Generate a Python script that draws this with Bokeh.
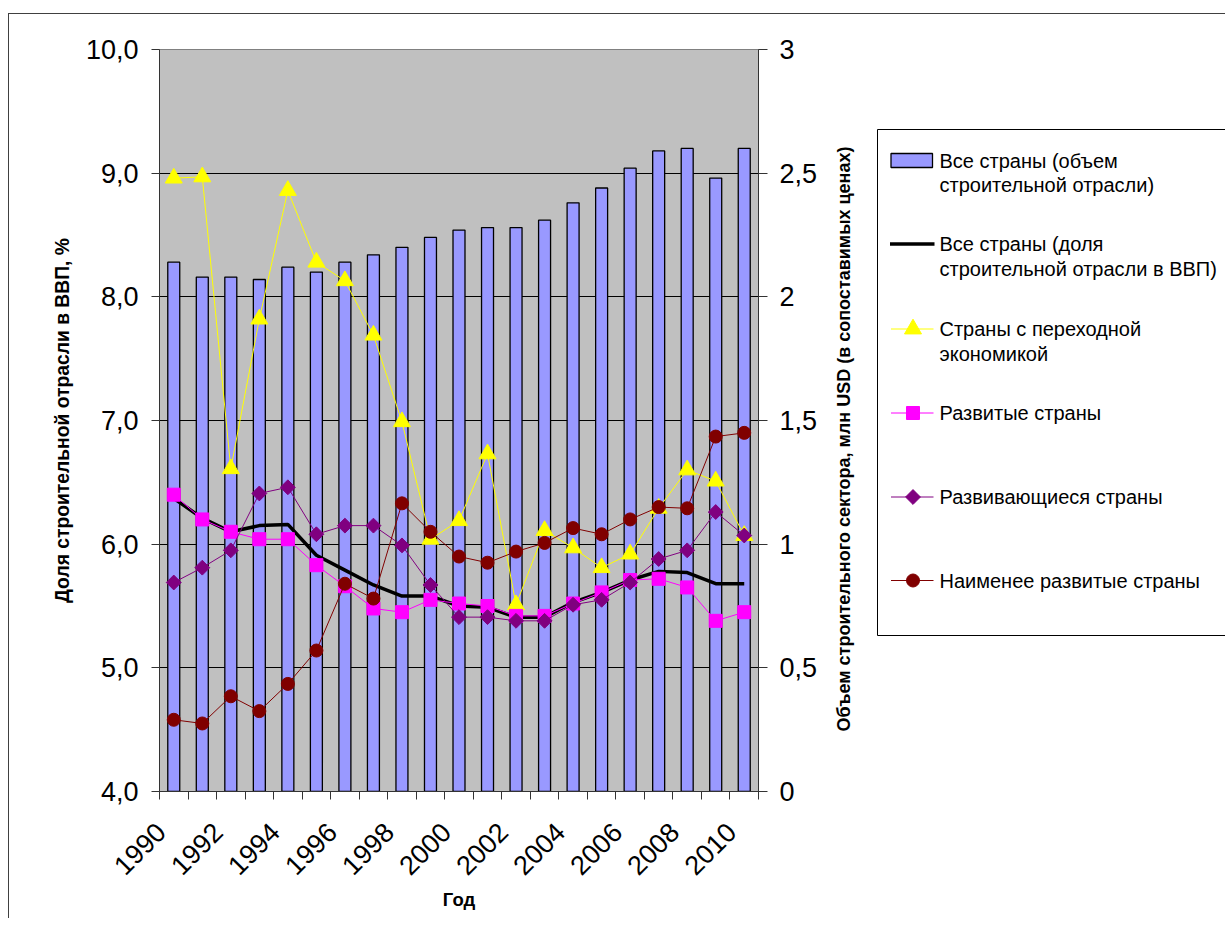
import math
from bokeh.plotting import figure
from bokeh.models import Range1d, LinearAxis, FixedTicker, CustomJSTickFormatter
from bokeh.layouts import row
from bokeh.embed import file_html
from bokeh.resources import INLINE
from bokeh.core.properties import value

# ---------------- data ----------------
years = list(range(1990, 2011))
year_labels = [1990, 1992, 1994, 1996, 1998, 2000, 2002, 2004, 2006, 2008, 2010]
volume = [2.14, 2.08, 2.08, 2.07, 2.12, 2.10, 2.14, 2.17, 2.20, 2.24, 2.27,
          2.28, 2.28, 2.31, 2.38, 2.44, 2.52, 2.59, 2.60, 2.48, 2.60]
all_share = [6.37, 6.21, 6.10, 6.15, 6.16, 5.91, 5.79, 5.67, 5.58, 5.58, 5.50,
             5.49, 5.41, 5.41, 5.53, 5.61, 5.71, 5.78, 5.77, 5.68, 5.68]
transition = [8.96, 8.97, 6.61, 7.82, 8.86, 8.28, 8.13, 7.69, 6.99, 6.04, 6.19,
              6.73, 5.51, 6.11, 5.97, 5.81, 5.92, 6.29, 6.60, 6.51, 6.07]
developed = [6.40, 6.20, 6.10, 6.04, 6.04, 5.83, 5.66, 5.48, 5.45, 5.55, 5.52,
             5.50, 5.42, 5.42, 5.52, 5.61, 5.71, 5.72, 5.65, 5.38, 5.45]
developing = [5.69, 5.81, 5.95, 6.41, 6.46, 6.08, 6.15, 6.15, 5.99, 5.67, 5.41,
              5.41, 5.38, 5.38, 5.51, 5.55, 5.69, 5.88, 5.95, 6.26, 6.07]
least = [4.58, 4.55, 4.77, 4.65, 4.87, 5.14, 5.68, 5.56, 6.33, 6.10, 5.90,
         5.85, 5.94, 6.01, 6.13, 6.08, 6.20, 6.30, 6.29, 6.87, 6.90]
left_ticks = [4, 5, 6, 7, 8, 9, 10]
right_ticks = [0, 0.5, 1, 1.5, 2, 2.5, 3]

left_title = "Доля строительной отрасли в ВВП, %"
right_title = "Объем строительного сектора, млн USD (в сопоставимых ценах)"
x_title = "Год"
legend_labels = [
    ["Все страны (объем", "строительной отрасли)"],
    ["Все страны (доля", "строительной отрасли в ВВП)"],
    ["Страны с переходной", "экономикой"],
    ["Развитые страны"],
    ["Развивающиеся страны"],
    ["Наименее развитые страны"],
]

FONT = "Liberation Sans"
H = 904
W_MAIN = 816
W_LEG = 400
TOP_B, BOT_B, LEFT_B = 35, 127, 150
LABEL_SHIFT = 0.45   # rotated year labels end slightly left of their bar (Excel style)

# ---------------- main chart ----------------
p = figure(width=W_MAIN, height=H, x_range=Range1d(1989.5, 2010.5), y_range=Range1d(4, 10),
           output_backend="svg", toolbar_location=None,
           min_border_left=LEFT_B, min_border_right=W_MAIN - LEFT_B - 599,
           min_border_top=TOP_B, min_border_bottom=BOT_B)
p.extra_y_ranges = {"vol": Range1d(0, 3)}
p.background_fill_color = "#C0C0C0"
p.border_fill_color = "white"
p.outline_line_color = "#808080"

p.xgrid.visible = False
p.ygrid.ticker = FixedTicker(ticks=left_ticks)
p.ygrid.grid_line_color = "black"
p.ygrid.grid_line_width = 1

# x axis
xa = p.xaxis[0]
xa.ticker = FixedTicker(ticks=[y - LABEL_SHIFT for y in year_labels],
                        minor_ticks=[y - 0.5 for y in years] + [years[-1] + 0.5])
xa.formatter = CustomJSTickFormatter(code="return Math.round(tick + %s).toFixed(0);" % LABEL_SHIFT)
xa.major_tick_line_color = None
xa.minor_tick_in = 0
xa.minor_tick_out = 8
xa.minor_tick_line_color = "#333333"
xa.axis_line_color = "#333333"
xa.major_label_orientation = math.pi / 4
xa.major_label_text_font = FONT
xa.major_label_text_font_size = "27px"
xa.major_label_text_color = "black"
xa.major_label_standoff = 28
xa.axis_label = x_title
xa.axis_label_text_font = FONT
xa.axis_label_text_font_size = "18.5px"
xa.axis_label_text_font_style = "bold"
xa.axis_label_text_color = "black"
xa.axis_label_standoff = 3

# left axis
ya = p.yaxis[0]
ya.ticker = FixedTicker(ticks=left_ticks)
ya.formatter = CustomJSTickFormatter(code="return tick.toFixed(1).replace('.', ',');")
ya.major_tick_in = 0
ya.major_tick_out = 8
ya.minor_tick_line_color = None
ya.axis_line_color = "#333333"
ya.major_tick_line_color = "#333333"
ya.major_label_text_font = FONT
ya.major_label_text_font_size = "27px"
ya.major_label_text_color = "black"
ya.major_label_standoff = 13
ya.axis_label = left_title
ya.axis_label_text_font = FONT
ya.axis_label_text_font_size = "19.3px"
ya.axis_label_text_font_style = "bold"
ya.axis_label_text_color = "black"
ya.axis_label_standoff = 10

# right axis
ra = LinearAxis(y_range_name="vol", ticker=FixedTicker(ticks=right_ticks),
                formatter=CustomJSTickFormatter(code="return tick.toString().replace('.', ',');"))
ra.major_tick_in = 0
ra.major_tick_out = 9
ra.minor_tick_line_color = None
ra.axis_line_color = "#333333"
ra.major_tick_line_color = "#333333"
ra.major_label_text_font = FONT
ra.major_label_text_font_size = "27px"
ra.major_label_text_color = "black"
ra.major_label_standoff = 12
p.add_layout(ra, "right")

# series
p.vbar(x=years, top=volume, bottom=0, width=0.42, y_range_name="vol",
       fill_color="#9999FF", line_color="black", line_width=1.3)

p.line(years, all_share, line_color="black", line_width=3.5)

p.line(years, transition, line_color="#FFFF00", line_width=1)
p.scatter(years, transition, marker="triangle", size=17, fill_color="#FFFF00", line_color="#FFFF00")

p.line(years, developed, line_color="#FF00FF", line_width=1)
p.scatter(years, developed, marker="square", size=13, fill_color="#FF00FF", line_color="#FF00FF")

p.line(years, developing, line_color="#800080", line_width=1)
p.scatter(years, developing, marker="square", size=10.5, angle=math.pi / 4,
          fill_color="#800080", line_color="#800080")

p.line(years, least, line_color="#800000", line_width=1)
p.scatter(years, least, marker="circle", size=13, fill_color="#800000", line_color="#800000")

# ---------------- right title + legend panel (page-pixel coordinates) ----------------
X0 = 8 + 1 + W_MAIN                 # page x where this panel starts
FR_TOP = 13 + 1 + TOP_B             # page y of frame top
FR_BOT = 13 + 1 + H - BOT_B         # page y of frame bottom
leg = figure(width=W_LEG, height=H, x_range=Range1d(X0, X0 + W_LEG), y_range=Range1d(FR_BOT, FR_TOP),
             output_backend="svg", toolbar_location=None,
             min_border_left=0, min_border_right=0, min_border_top=TOP_B, min_border_bottom=BOT_B,
             x_axis_type=None, y_axis_type=None)
leg.grid.visible = False
leg.outline_line_color = None
leg.background_fill_color = "white"
leg.border_fill_color = "white"

leg.text(x=[843], y=[438.5], text=[right_title], angle=math.pi / 2,
         text_font=value(FONT), text_font_size="18px", text_font_style="bold",
         text_align="center", text_baseline="middle", text_color="black")

leg.quad(left=[877], right=[X0 + W_LEG + 50], top=[129], bottom=[635],
         fill_color=None, line_color="black", line_width=1)

item_y = [160, 243.5, 328.5, 412.5, 496.5, 580]
gx0, gx1, gxm = 890.5, 932, 912.5
tx = 939
line_gap = 24.5

leg.quad(left=[gx0], right=[gx1], top=[item_y[0] - 7], bottom=[item_y[0] + 7],
         fill_color="#9999FF", line_color="black", line_width=1.3)
leg.segment(x0=[gx0 - 1], x1=[gx1 + 2], y0=[item_y[1]], y1=[item_y[1]], line_color="black", line_width=3.5)
leg.segment(x0=[gx0], x1=[gx1 + 1], y0=[item_y[2]], y1=[item_y[2]], line_color="#FFFF00", line_width=1)
leg.scatter([gxm], [item_y[2]], marker="triangle", size=17, fill_color="#FFFF00", line_color="#FFFF00")
leg.segment(x0=[gx0], x1=[gx1 + 1], y0=[item_y[3]], y1=[item_y[3]], line_color="#FF00FF", line_width=1)
leg.scatter([gxm], [item_y[3]], marker="square", size=13, fill_color="#FF00FF", line_color="#FF00FF")
leg.segment(x0=[gx0], x1=[gx1 + 1], y0=[item_y[4]], y1=[item_y[4]], line_color="#800080", line_width=1)
leg.scatter([gxm], [item_y[4]], marker="square", size=10.5, angle=math.pi / 4,
            fill_color="#800080", line_color="#800080")
leg.segment(x0=[gx0], x1=[gx1 + 1], y0=[item_y[5]], y1=[item_y[5]], line_color="#800000", line_width=1)
leg.scatter([gxm], [item_y[5]], marker="circle", size=13, fill_color="#800000", line_color="#800000")

txt_x, txt_y, txt = [], [], []
for yy, lines in zip(item_y, legend_labels):
    for k, s in enumerate(lines):
        txt_x.append(tx)
        txt_y.append(yy + k * line_gap)
        txt.append(s)
leg.text(x=txt_x, y=txt_y, text=txt, text_font=value(FONT), text_font_size="20px",
         text_baseline="middle", text_align="left", text_color="black")

layout = row(p, leg, margin=(13, 0, 0, 8),
             styles={"border-top": "1px solid #404040", "border-left": "1px solid #404040"})

open("out.html", "w").write(file_html(layout, INLINE))
